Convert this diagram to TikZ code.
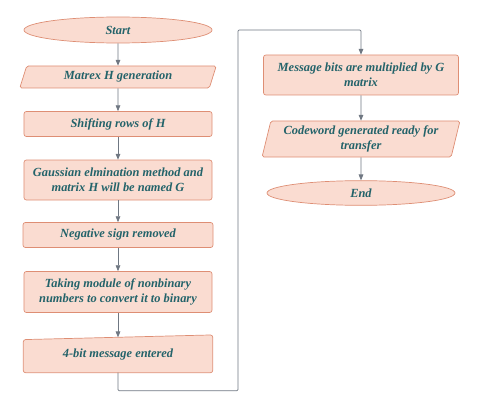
\documentclass[tikz,border=0pt]{standalone}
\usepackage{fontspec}
\setmainfont{Liberation Serif}
\usetikzlibrary{positioning,arrows.meta,shapes.geometric}
\definecolor{boxfill}{HTML}{FADCD1}
\definecolor{boxline}{HTML}{DE8E74}
\definecolor{txt}{HTML}{23636A}
\definecolor{flowline}{HTML}{6F7782}

\begin{document}
\begin{tikzpicture}[
  box/.style={rectangle, rounded corners=2pt, draw=boxline, line width=0.6pt, fill=boxfill, minimum width=5.64cm, minimum height=0.75cm, align=center, text=txt, font=\bfseries\itshape\fontsize{10.6}{13}\selectfont},
  term/.style={box, ellipse, rounded corners=0pt},
  io/.style={box, trapezium, trapezium left angle=77, trapezium right angle=103, trapezium stretches=true, rounded corners=1.5pt},
  >={Triangle[length=5pt,width=4pt]}, flow/.style={draw=flowline, ->, line width=0.6pt}
]
  \useasboundingbox (0,0) rectangle (14.4,-12.3);

  \node[term, minimum height=0.78cm] (start) at (3.54,-0.9) {Start};
  \node[io, minimum height=0.66cm, minimum width=5.9cm] (gen) at (3.54,-2.31) {Matrex H generation};
  \node[box] (shift) at (3.54,-3.72) {Shifting rows of H};
  \node[box, minimum height=1.2cm] (gauss) at (3.54,-5.4) {Gaussian elmination method and\\matrix H will be named G};
  \node[box, minimum width=5.7cm] (neg) at (3.54,-7.05) {Negative sign removed};
  \node[box, minimum height=1.23cm] (mod) at (3.54,-8.76) {Taking module of nonbinary\\numbers to convert it to binary};
  \node[minimum width=5.67cm, minimum height=1.05cm, text=txt, font=\bfseries\itshape\fontsize{10.6}{13}\selectfont] (bit) at (3.54,-10.65) {4-bit message entered};
  \draw[draw=boxline, line width=0.6pt, fill=boxfill, rounded corners=2pt] (bit.south west) -- (bit.south east) -- ([yshift=2pt]bit.north east) -- ([yshift=-2pt]bit.north west) -- cycle;
  \node[minimum width=5.67cm, minimum height=1.05cm, text=txt, font=\bfseries\itshape\fontsize{10.6}{13}\selectfont] at (bit) {4-bit message entered};

  \node[box, minimum width=5.85cm, minimum height=1.2cm] (mult) at (10.83,-2.25) {Message bits are multiplied by G\\matrix};
  \node[io, minimum width=5.95cm, minimum height=1.08cm] (code) at (10.83,-4.17) {Codeword generated ready for\\transfer};
  \node[term, minimum height=0.74cm] (end) at (10.83,-5.79) {End};

  \coordinate (turn) at (7.14,-0.9);

  \draw[flow] (start) -- (gen);
  \draw[flow] (gen) -- (shift);
  \draw[flow] (shift) -- (gauss);
  \draw[flow] (gauss) -- (neg);
  \draw[flow] (neg) -- (mod);
  \draw[flow] (mod) -- (bit);
  \draw[flow, rounded corners=1pt] (bit.south) -- ++(0,-0.54) -| (turn) -| (mult.north);
  \draw[flow] (mult) -- (code);
  \draw[flow] (code) -- (end);
\end{tikzpicture}
\end{document}
